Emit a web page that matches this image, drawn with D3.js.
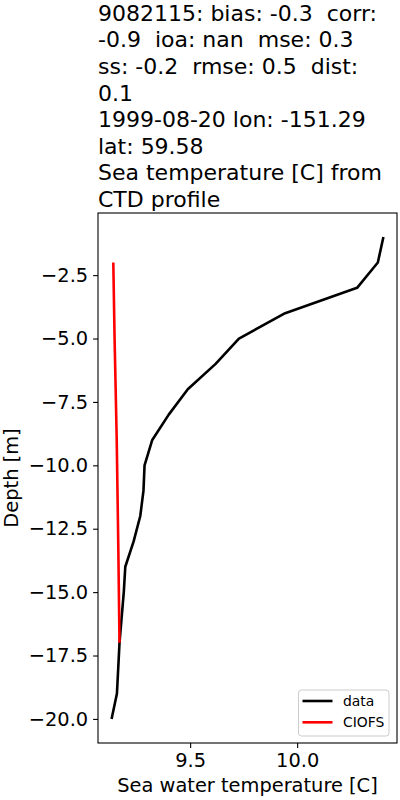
<!DOCTYPE html>
<html>
<head>
<meta charset="utf-8">
<script src="https://cdn.jsdelivr.net/npm/d3@7"></script>
<style>
  body { margin: 0; background: #fff; }
  text { font-family: "DejaVu Sans", sans-serif; fill: #000; }
</style>
</head>
<body>
<svg id="chart" width="400" height="800"></svg>
<script>
// title lines (wrapped as in the figure)
var titleLines = [
    "9082115: bias: -0.3  corr:",
    "-0.9  ioa: nan  mse: 0.3",
    "ss: -0.2  rmse: 0.5  dist:",
    "0.1",
    "1999-08-20 lon: -151.29",
    "lat: 59.58",
    "Sea temperature [C] from",
    "CTD profile"
];

// observed CTD profile
var dataDepth = [-1, -2, -3, -4, -5, -6, -7, -8, -9, -10, -11, -12, -13, -14, -15, -16, -17, -18, -19, -20];
var dataTemp = [10.403, 10.377, 10.28, 9.944, 9.728, 9.619, 9.489, 9.40, 9.323, 9.287,
                9.282, 9.267, 9.236, 9.197, 9.19, 9.18, 9.170, 9.164, 9.158, 9.133];

// model profile
var modelDepth = [-2, -5, -9, -13, -17];
var modelTemp = [9.141, 9.147, 9.157, 9.164, 9.170];

var xTicks = [9.5, 10.0];
var yTicks = [-2.5, -5, -7.5, -10, -12.5, -15, -17.5, -20];

var margin = {top: 213, right: 3, bottom: 57, left: 98};
var width = 400 - margin.left - margin.right;
var height = 800 - margin.top - margin.bottom;

var svg = d3.select("#chart");
var chart = svg.append("g")
    .attr("transform", "translate(" + margin.left + "," + margin.top + ")");

var obs = dataDepth.map(function (d, i) { return {depth: d, temp: dataTemp[i]}; });
var mod = modelDepth.map(function (d, i) { return {depth: d, temp: modelTemp[i]}; });

// matplotlib-like 5% margins
var tExt = d3.extent(dataTemp.concat(modelTemp));
var tPad = (tExt[1] - tExt[0]) * 0.05;
var dExt = d3.extent(dataDepth.concat(modelDepth));
var dPad = (dExt[1] - dExt[0]) * 0.05;

var x = d3.scaleLinear().domain([tExt[0] - tPad, tExt[1] + tPad]).range([0, width]);
var y = d3.scaleLinear().domain([dExt[0] - dPad, dExt[1] + dPad]).range([height, 0]);

var xAxis = d3.axisBottom(x).tickValues(xTicks).tickFormat(d3.format(".1f")).tickSize(4.9).tickPadding(5.5);
var yAxis = d3.axisLeft(y).tickValues(yTicks).tickFormat(d3.format(".1f")).tickSize(4.9).tickPadding(4.9);

var gx = chart.append("g").attr("transform", "translate(0," + height + ")").call(xAxis);
var gy = chart.append("g").call(yAxis);
[gx, gy].forEach(function (g) {
    g.select(".domain").remove();
    g.selectAll("line").attr("stroke", "#000").attr("stroke-width", 1.1);
    g.selectAll("text").style("font-size", "19.4px").attr("fill", "#000");
});

var line = d3.line()
    .x(function (d) { return x(d.temp); })
    .y(function (d) { return y(d.depth); });

chart.append("path").datum(obs)
    .attr("fill", "none").attr("stroke", "#000").attr("stroke-width", 2.6)
    .attr("stroke-linejoin", "round")
    .attr("d", line);

chart.append("path").datum(mod)
    .attr("fill", "none").attr("stroke", "#ff0000").attr("stroke-width", 2.6)
    .attr("stroke-linejoin", "round")
    .attr("d", line);

// axes frame
chart.append("rect")
    .attr("width", width).attr("height", height)
    .attr("fill", "none").attr("stroke", "#000").attr("stroke-width", 1.1);

// legend
var legend = chart.append("g").attr("transform", "translate(" + (width - 98.5) + "," + (height - 53) + ")");
legend.append("rect")
    .attr("width", 90.5).attr("height", 46).attr("rx", 3)
    .attr("fill", "#fff").attr("fill-opacity", 0.8)
    .attr("stroke", "#ccc");
var legendItems = [{name: "data", color: "#000"}, {name: "CIOFS", color: "#ff0000"}];
legendItems.forEach(function (d, i) {
    var row = legend.append("g").attr("transform", "translate(0," + (11 + i * 21.3) + ")");
    row.append("line").attr("x1", 4).attr("x2", 34)
        .attr("stroke", d.color).attr("stroke-width", 2.6);
    row.append("text").attr("x", 44.5).attr("dy", "0.35em")
        .style("font-size", "13.9px").text(d.name);
});

// axis labels
svg.append("text")
    .attr("x", margin.left + width / 2).attr("y", 791.5)
    .attr("text-anchor", "middle").style("font-size", "19.4px")
    .text("Sea water temperature [C]");

svg.append("text")
    .attr("transform", "translate(18," + (margin.top + height / 2) + ") rotate(-90)")
    .attr("text-anchor", "middle").style("font-size", "19.4px")
    .text("Depth [m]");

// title
svg.append("g").selectAll("text")
    .data(titleLines).enter()
    .append("text")
    .attr("x", margin.left)
    .attr("y", function (d, i) { return 20.7 + i * 26.6; })
    .style("font-size", "22px")
    .style("white-space", "pre")
    .text(function (d) { return d; });
</script>
</body>
</html>
